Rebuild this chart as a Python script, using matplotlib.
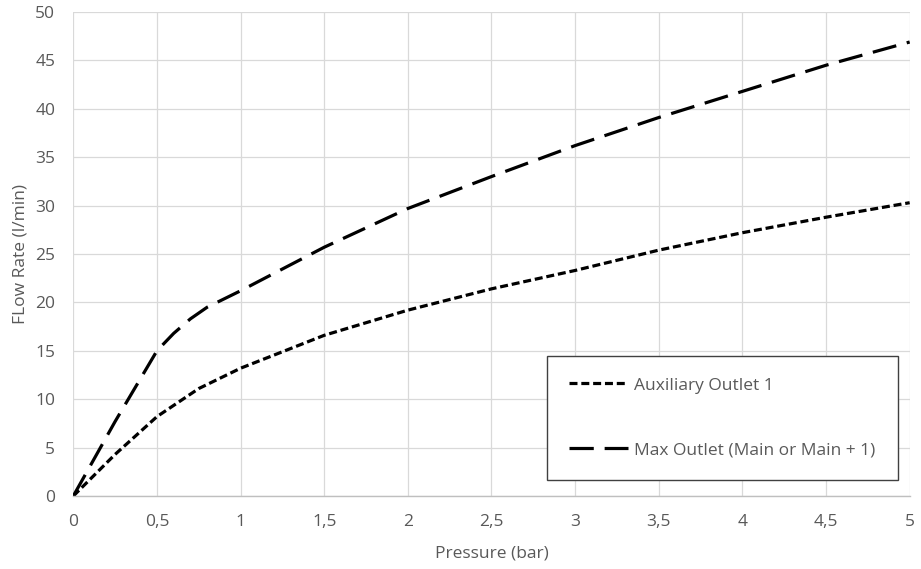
import matplotlib
matplotlib.use("Agg")
import matplotlib.pyplot as plt

# pressure (bar) -> flow rate (l/min)
aux_x = [0, 0.25, 0.5, 0.75, 1, 1.5, 2, 2.5, 3, 3.5, 4, 4.5, 5]
aux_y = [0, 4.3, 8.2, 11.1, 13.2, 16.6, 19.2, 21.4, 23.3, 25.4, 27.2, 28.8, 30.3]

max_x = [0, 0.25, 0.5, 0.6, 0.7, 0.8, 1, 1.5, 2, 2.5, 3, 3.5, 4, 4.5, 5]
max_y = [0, 7.7, 15.0, 16.8, 18.3, 19.5, 21.2, 25.7, 29.7, 33.0, 36.2, 39.1, 41.8, 44.5, 46.9]

x_ticks = [0, 0.5, 1, 1.5, 2, 2.5, 3, 3.5, 4, 4.5, 5]
x_labels = ["0", "0,5", "1", "1,5", "2", "2,5", "3", "3,5", "4", "4,5", "5"]
y_ticks = [0, 5, 10, 15, 20, 25, 30, 35, 40, 45, 50]

plt.rcParams['font.family'] = ['Open Sans', 'DejaVu Sans']
txt = '#595959'
fs = 12.5

fig = plt.figure(figsize=(9.21, 5.69), dpi=100)
ax = fig.add_axes([0.0796, 0.1283, 0.9081, 0.8506])

ax.plot(aux_x, aux_y, color='black', lw=2.3, dashes=(2.5, 1.2), label='Auxiliary Outlet 1')
ax.plot(max_x, max_y, color='black', lw=2.3, dashes=(7.6, 3.4), label='Max Outlet (Main or Main + 1)')

ax.set_xlim(0, 5)
ax.set_ylim(0, 50)
ax.set_xticks(x_ticks)
ax.set_xticklabels(x_labels)
ax.set_yticks(y_ticks)
ax.grid(True, color='#d9d9d9', lw=0.9)
ax.set_axisbelow(True)
for s in ['top', 'right', 'left']:
    ax.spines[s].set_visible(False)
ax.spines['bottom'].set_color('#bfbfbf')
ax.spines['bottom'].set_linewidth(1.0)
ax.tick_params(axis='x', length=0, labelsize=fs, colors=txt, pad=13)
ax.tick_params(axis='y', length=0, labelsize=fs, colors=txt, pad=13)

ax.set_xlabel('Pressure (bar)', fontsize=fs, color=txt, labelpad=11)
ax.set_ylabel('FLow Rate (l/min)', fontsize=fs, color=txt, labelpad=5)

leg = ax.legend(loc='lower left', bbox_to_anchor=(0.5667, 0.033, 0.419, 0.269),
                mode='expand', borderaxespad=0, fontsize=fs, handlelength=3.4,
                handletextpad=0.35, labelspacing=2.8, borderpad=1.25,
                fancybox=False, framealpha=1, labelcolor=txt)
leg.get_frame().set_edgecolor('#404040')
leg.get_frame().set_linewidth(1.0)

plt.savefig('out.png', dpi=100)
